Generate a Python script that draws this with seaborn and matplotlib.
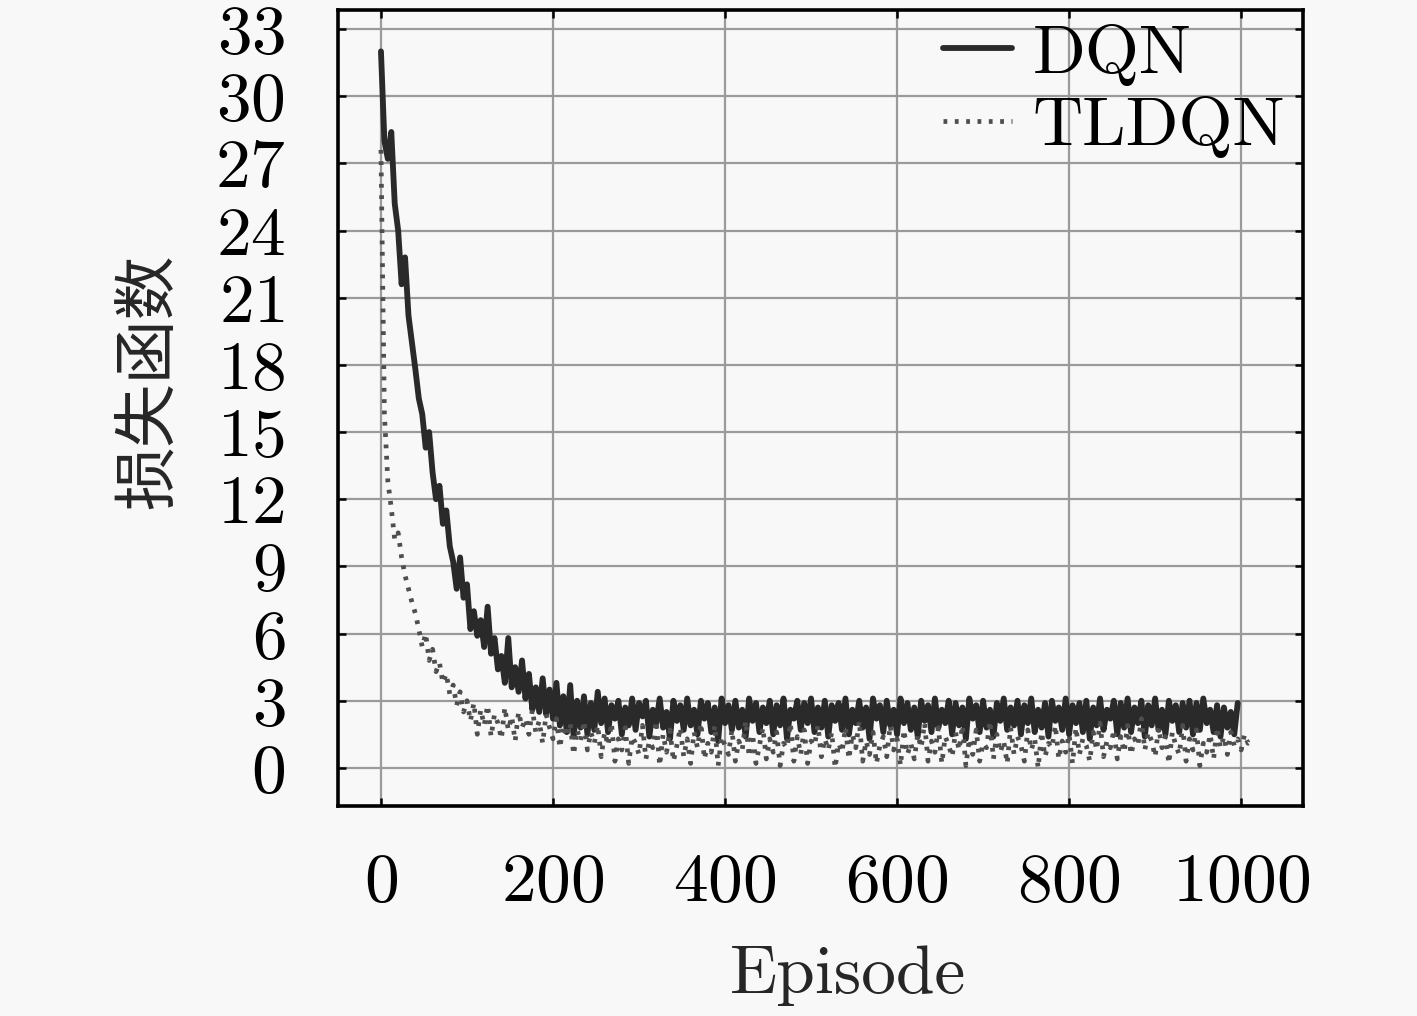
import numpy as np
import pandas as pd
import matplotlib.pyplot as plt
import seaborn as sns

# 损失函数曲线 (每 4 个 episode 取一个点)
dqn_loss = [
    32.0, 28.0, 27.2, 28.4, 25.2, 24.0, 21.6, 22.8, 20.2, 19.0,
    17.8, 16.5, 15.8, 14.3, 15.0, 13.2, 12.0, 12.6, 10.9, 11.5,
    9.9, 9.2, 8.0, 9.4, 7.6, 8.2, 6.2, 7.0, 5.9, 6.6,
    5.4, 7.2, 5.1, 5.8, 4.4, 5.0, 3.8, 5.8, 3.6, 4.5,
    3.4, 4.8, 3.1, 4.2, 2.6, 3.6, 2.5, 4.0, 2.4, 3.5,
    2.2, 3.8, 1.9, 3.2, 1.6, 3.7, 1.4, 3.0, 1.8, 3.2,
    1.5, 2.9, 1.7, 3.4,
    2.0, 3.1, 1.6, 2.8, 2.2, 3.0, 1.5, 2.7, 1.9, 3.1,
    1.7, 2.9, 2.3, 3.0, 1.4, 2.6, 2.0, 3.1, 1.8, 2.5,
    1.3, 3.0, 2.1, 2.8, 1.7, 3.1, 1.9, 2.6, 1.5, 3.0,
    2.2, 2.9, 1.6, 2.7, 1.2, 3.1, 2.0, 2.8, 1.7, 3.0,
    1.8, 2.6, 1.4, 3.1, 2.1, 2.9, 1.6, 2.7, 2.0, 3.0,
    1.5, 2.8, 1.9, 3.1, 1.3, 2.6, 2.2, 3.0, 1.7, 2.9,
    2.0, 3.1, 1.6, 2.7, 1.8, 3.0, 1.4, 2.8, 2.1, 2.9,
    1.7, 3.1, 1.5, 2.6, 2.0, 3.0, 1.8, 2.7, 1.3, 3.1,
    2.2, 2.8, 1.6, 3.0, 1.9, 2.6, 1.5, 3.1, 2.0, 2.9,
    1.7, 2.7, 1.4, 3.0, 2.1, 2.8, 1.6, 3.1, 1.8, 2.6,
    2.0, 3.0, 1.5, 2.9, 1.9, 2.7, 1.3, 3.1, 2.2, 2.8,
    1.6, 3.0, 1.8, 2.6, 1.4, 2.9, 2.1, 3.1, 1.7, 2.7,
    1.9, 3.0, 1.5, 2.8, 2.0, 3.1, 1.6, 2.6, 1.8, 2.9,
    1.4, 3.0, 2.1, 2.7, 1.7, 3.1, 1.5, 2.8, 2.0, 2.9,
    1.6, 3.0, 1.3, 2.7, 1.9, 3.1, 1.7, 2.6, 2.2, 3.0,
    1.5, 2.9, 1.8, 3.1, 1.6, 2.7, 2.0, 3.0, 1.4, 2.8,
    1.9, 3.1, 1.7, 2.6, 1.5, 3.0, 2.1, 2.8, 1.6, 2.9,
    1.8, 3.0, 1.5, 2.9, 1.7, 3.1, 2.0, 2.6, 1.6, 2.8,
    1.4, 2.7, 1.8, 2.5, 1.5, 2.9,
]

tldqn_loss = [
    27.6, 15.8, 12.8, 11.6, 10.2, 10.5, 9.4, 8.6, 8.0, 7.4,
    6.9, 6.2, 5.4, 6.0, 4.8, 5.3, 4.3, 4.7, 3.8, 4.2,
    3.3, 3.7, 2.8, 3.4, 2.5, 3.0, 2.1, 2.9, 1.5, 2.6,
    1.9, 2.8, 1.4, 2.4, 2.0, 1.3, 2.7, 1.7, 2.3, 1.2,
    2.5, 1.8, 2.2, 1.5, 2.6, 1.6, 2.1, 1.1, 2.4, 1.8,
    1.3, 2.2, 0.9, 1.9, 1.4, 2.0, 0.6, 1.7, 1.2, 2.1,
    0.8, 1.6, 1.1, 1.9,
    0.5, 1.6, 1.0, 2.0, 0.3, 1.3, 0.8, 1.8, 0.2, 1.4,
    1.1, 0.6, 1.9, 0.4, 1.2, 0.9, 2.1, 0.1, 1.5, 0.7,
    1.7, 0.3, 1.0, 1.8, 0.5, 1.3, 0.2, 1.6, 0.9, 2.0,
    0.4, 1.1, 0.7, 1.9, 0.1, 1.4, 1.0, 0.6, 1.7, 0.3,
    1.2, 0.8, 2.1, 0.5, 1.5, 0.2, 1.0, 1.8, 0.4, 1.3,
    0.7, 1.6, 0.1, 1.1, 0.9, 2.0, 0.3, 1.4, 0.6, 1.7,
    0.2, 1.2, 1.0, 1.9, 0.5, 1.3, 0.8, 1.6, 0.0, 1.1,
    0.7, 1.8, 0.4, 1.5, 0.9, 2.1, 0.3, 1.2, 0.6, 1.6,
    0.2, 1.0, 1.4, 0.5, 1.9, 0.8, 1.3, 0.1, 1.7, 0.6,
    1.1, 0.4, 1.5, 0.9, 2.0, 0.3, 1.2, 0.7, 1.8, 0.2,
    1.4, 1.0, 0.5, 1.6, 0.8, 1.9, 0.1, 1.3, 0.6, 1.7,
    0.3, 1.1, 0.9, 2.1, 0.4, 1.5, 0.7, 1.2, 0.2, 1.8,
    0.6, 1.4, 1.0, 0.3, 1.7, 0.8, 1.3, 0.0, 1.6, 0.5,
    1.1, 0.9, 1.9, 0.4, 1.2, 0.7, 1.5, 0.2, 1.8, 0.6,
    1.3, 1.0, 0.3, 1.6, 0.8, 2.0, 0.5, 1.2, 0.9, 1.7,
    0.4, 1.4, 0.7, 1.9, 0.6, 1.3, 1.0, 2.2, 0.8, 1.6,
    1.2, 0.5, 1.8, 0.9, 1.4, 0.2, 1.6, 1.0, 0.6, 1.9,
    0.3, 1.3, 0.8, 1.7, 0.1, 1.1, 0.7, 1.5, 0.4, 1.8,
    0.9, 1.4, 0.6, 1.6, 1.0, 1.3, 0.8, 1.5, 1.1, 1.2,
]

x_ticks = [0, 200, 400, 600, 800, 1000]
y_ticks = [0, 3, 6, 9, 12, 15, 18, 21, 24, 27, 30, 33]
labels = ["DQN", "TLDQN"]

dqn_ep = np.arange(len(dqn_loss)) * 4
tldqn_ep = np.arange(len(tldqn_loss)) * 4

df = pd.concat([
    pd.DataFrame({"Episode": dqn_ep, "loss": dqn_loss, "model": labels[0]}),
    pd.DataFrame({"Episode": tldqn_ep, "loss": tldqn_loss, "model": labels[1]}),
])

sns.set_style("ticks")
plt.rcParams["font.family"] = ["cmr10", "Noto Sans CJK SC"]
plt.rcParams["axes.formatter.use_mathtext"] = True
plt.rcParams["mathtext.fontset"] = "cm"

bg = "#f8f8f8"
fig = plt.figure(figsize=(7.085, 5.08), dpi=200, facecolor=bg)
ax = fig.add_axes([0.2385, 0.2067, 0.6811, 0.7835])
ax.set_facecolor(bg)

sns.lineplot(data=df[df.model == "DQN"], x="Episode", y="loss", ax=ax,
             color="#2a2a2a", linewidth=2.1, estimator=None, sort=False, label="DQN")
sns.lineplot(data=df[df.model == "TLDQN"], x="Episode", y="loss", ax=ax,
             color="#4e4e4e", linewidth=1.7, linestyle=(0, (0.8, 1.6)),
             estimator=None, sort=False, label="TLDQN")

ax.set_xlim(-50, 1072)
ax.set_ylim(-1.7, 33.85)
ax.set_xticks(x_ticks)
ax.set_yticks(y_ticks)
ax.grid(True, color="#9a9a9a", linewidth=0.8)
ax.set_axisbelow(True)
ax.tick_params(direction="in", length=3, width=0.9, top=True, right=True,
               labelsize=25, colors="black")
ax.tick_params(axis="y", pad=19)
ax.tick_params(axis="x", pad=17)
for s in ax.spines.values():
    s.set_linewidth(1.3)
    s.set_color("black")

ax.set_xlabel("Episode", fontsize=25)
ax.xaxis.set_label_coords(0.528, -0.175)
ax.set_ylabel("损失函数", fontsize=23, family=["Noto Sans CJK SC"])
ax.yaxis.set_label_coords(-0.162, 0.533)

leg = ax.legend(loc="upper right", frameon=False, fontsize=25, handlelength=1.0,
                handletextpad=0.3, labelspacing=0.15, borderaxespad=0.2,
                bbox_to_anchor=(1.025, 1.035))
for t in leg.get_texts():
    t.set_color("black")

fig.savefig("out.png", dpi=200, facecolor=bg)
